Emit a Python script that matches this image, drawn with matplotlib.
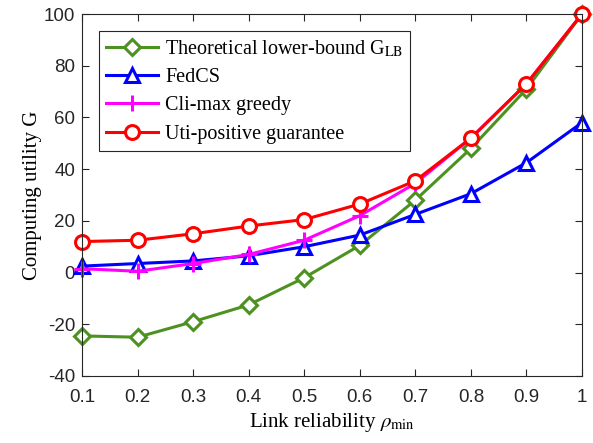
import matplotlib

matplotlib.use("Agg")
import matplotlib.pyplot as plt  # noqa: E402

plt.rcParams["mathtext.fontset"] = "stix"
plt.rcParams["axes.unicode_minus"] = False

# Dados
rho = [0.1, 0.2, 0.3, 0.4, 0.5, 0.6, 0.7, 0.8, 0.9, 1.0]
g_lb = [-24.5, -25, -19, -12.5, -2, 10.5, 28, 48, 71, 100]
fedcs = [2.5, 3.5, 4.5, 6.5, 10, 14.5, 22.5, 30.5, 42.5, 58]
climax = [1.5, 0.5, 3.5, 7, 12.5, 22, 34.5, 52, 73, 100]
utipos = [12, 12.5, 15, 18, 20.5, 26.5, 35.5, 52, 73, 100]

xticks = [0.1, 0.2, 0.3, 0.4, 0.5, 0.6, 0.7, 0.8, 0.9, 1.0]
xticklabels = ["0.1", "0.2", "0.3", "0.4", "0.5", "0.6", "0.7", "0.8", "0.9", "1"]
yticks = [-40, -20, 0, 20, 40, 60, 80, 100]

SERIF = "Liberation Serif"
SANS = "Liberation Sans"

fig = plt.figure(figsize=(5.93, 4.43), dpi=100)
ax = fig.add_axes([82 / 593, 1 - 376 / 443, 500 / 593, 362 / 443])

common = dict(linewidth=2.2, markersize=10, markerfacecolor="white",
              markeredgewidth=2.2, clip_on=False)
ax.plot(rho, g_lb, color="#4d9221", marker="D", markersize=8,
        linewidth=2.2, markerfacecolor="white", markeredgewidth=2.2, clip_on=False,
        label="Theoretical lower-bound G$_{\\mathrm{LB}}$")
ax.plot(rho, fedcs, color="#0000ff", marker="^", label="FedCS", **common)
ax.plot(rho, climax, color="#ff00ff", marker="+", linewidth=2.2, markersize=12,
        markeredgewidth=2.2, clip_on=False, label="Cli-max greedy")
ax.plot(rho, utipos, color="#ff0000", marker="o", label="Uti-positive guarantee", **common)

ax.set_xlim(0.1, 1.0)
ax.set_ylim(-40, 100)
ax.set_xticks(xticks)
ax.set_xticklabels(xticklabels)
ax.set_yticks(yticks)
ax.tick_params(direction="in", top=True, right=True, length=5, width=0.8,
               labelsize=13.5, colors="#262626")
ax.tick_params(axis="x", pad=9)
ax.tick_params(axis="y", pad=5)
for lab in ax.get_xticklabels() + ax.get_yticklabels():
    lab.set_family(SANS)
for s in ax.spines.values():
    s.set_color("#262626")
    s.set_linewidth(0.8)

ax.set_xlabel("Link reliability $\\rho_{\\mathrm{min}}$", fontsize=15, family=SERIF, labelpad=4)
ax.set_ylabel("Computing utility G", fontsize=15, family=SERIF, labelpad=1)

leg = ax.legend(loc="upper left", bbox_to_anchor=(0.033, 0.952),
                prop={"family": SERIF, "size": 14.5},
                frameon=True, fancybox=False, edgecolor="#262626", framealpha=1,
                handlelength=2.6, handletextpad=0.35, borderpad=0.35, labelspacing=0.45,
                borderaxespad=0)
leg.get_frame().set_linewidth(0.8)

fig.savefig("out.png", dpi=100, facecolor="white")
plt.close(fig)
